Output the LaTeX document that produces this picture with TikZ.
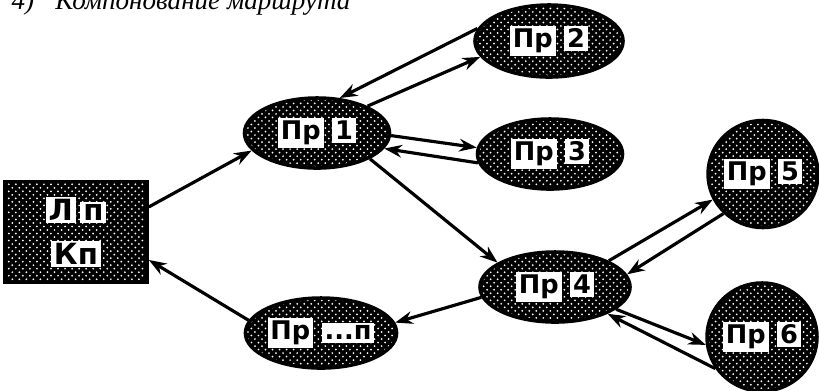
\documentclass[tikz,border=0pt]{standalone}
\usepackage{fontspec}
\setmainfont{Liberation Serif}
\newfontfamily\lblfont{DejaVu Sans}
\usetikzlibrary{shapes.geometric,arrows.meta,patterns}

% white speckles on black
\pgfdeclarepatternformonly{speckle}{\pgfqpoint{-0.1pt}{-0.1pt}}{\pgfqpoint{2.1pt}{2.1pt}}{\pgfqpoint{2pt}{2pt}}{%
  \pgfpathcircle{\pgfqpoint{0.5pt}{0.5pt}}{0.28pt}%
  \pgfpathcircle{\pgfqpoint{1.5pt}{1.5pt}}{0.28pt}%
  \pgfusepath{fill}}

\newcommand{\wbox}[1]{{\setlength{\fboxsep}{0.8pt}\colorbox{white}{\lblfont\bfseries #1}}}

\begin{document}
\begin{tikzpicture}[x=0.01cm, y=-0.01cm,
    proc/.style={ellipse, draw, line width=1pt, preaction={fill=black},
      pattern=speckle, pattern color=white, inner sep=0pt,
      minimum width=1.45cm, minimum height=0.7cm,
      font=\fontsize{7.3}{8.5}\selectfont},
    arr/.style={line width=0.9pt, -{Stealth[length=5pt,width=3.6pt]}}]
    \useasboundingbox (0,0) rectangle (819,390);

    % Heading (cut at the top)
    \node[anchor=base west, inner sep=0pt, font=\fontsize{7.7}{9}\selectfont\itshape] (title) at (11,9)
        {4)\hspace{6pt}Компонование маршрута};

    % Route box
    \node[rectangle, draw, line width=1pt, preaction={fill=black}, pattern=speckle,
        pattern color=white, minimum width=1.42cm, minimum height=1.01cm, align=center,
        font=\fontsize{8.3}{9.5}\selectfont] (route) at (76,232)
        {\wbox{Л}\,\wbox{п}\\[3pt]\wbox{Кп}};

    % Processes
    \node[proc] (p1) at (317,133) {\wbox{Пр}\hspace{2.5pt}\wbox{1}};
    \node[proc, minimum width=1.48cm, minimum height=0.72cm] (p2) at (549,41) {\wbox{Пр}\hspace{2.5pt}\wbox{2}};
    \node[proc] (p3) at (550,154) {\wbox{Пр}\hspace{2.5pt}\wbox{3}};
    \node[proc, minimum width=1.5cm] (p4) at (555,287) {\wbox{Пр}\hspace{2.5pt}\wbox{4}};
    \node[proc, minimum width=1.04cm, minimum height=1.07cm] (p5) at (763,174) {\wbox{Пр}\hspace{2.5pt}\wbox{5}};
    \node[proc, minimum width=1.05cm, minimum height=1.08cm] (p6) at (762,337) {\wbox{Пр}\hspace{2.5pt}\wbox{6}};
    \node[proc, minimum width=1.48cm] (pn) at (321,333) {\wbox{Пр}\hspace{2.5pt}\wbox{...п}};

    % Links
    \draw[arr] (route.19) -- (p1.195);
    \draw[arr] (pn.170) -- (route.-21);
    \draw[arr] (p2.170) -- (p1.57);
    \draw[arr] (p1.28) -- (p2.193);
    \draw[arr] (p1.-2) -- (p3.175);
    \draw[arr] (p3.187) -- (p1.-13);
    \draw[arr] (p1.-26) -- (p4.157);
    \draw[arr] (p4.188) -- (pn.8);
    \draw[arr] (p4.26) -- (p5.207);
    \draw[arr] (p5.225) -- (p4.10);
    \draw[arr] (p4.-20) -- (p6.188);
    \draw[arr] (p6.214) -- (p4.-27);
\end{tikzpicture}
\end{document}
